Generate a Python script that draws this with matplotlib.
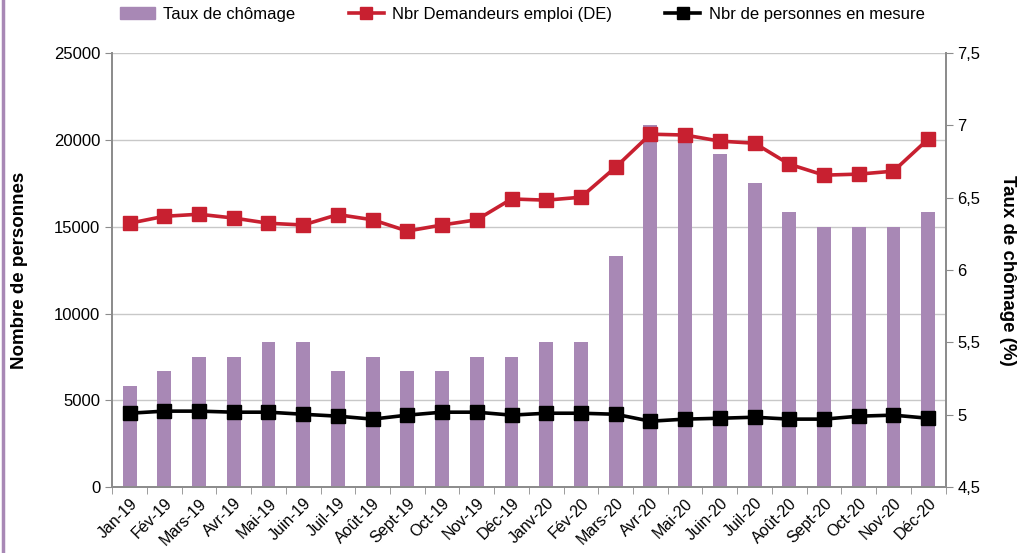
import matplotlib
matplotlib.use("Agg")
import matplotlib.pyplot as plt
import matplotlib.transforms as mtransforms
from matplotlib.lines import Line2D
from matplotlib.patches import Patch
import numpy as np

plt.rcParams['font.family'] = ['Liberation Sans', 'DejaVu Sans']

# --- données ---
mois = ['Jan-19', 'Fév-19', 'Mars-19', 'Avr-19', 'Mai-19', 'Juin-19', 'Juil-19',
        'Août-19', 'Sept-19', 'Oct-19', 'Nov-19', 'Déc-19', 'Janv-20', 'Fév-20',
        'Mars-20', 'Avr-20', 'Mai-20', 'Juin-20', 'Juil-20', 'Août-20', 'Sept-20',
        'Oct-20', 'Nov-20', 'Déc-20']
taux_chomage = [5.2, 5.3, 5.4, 5.4, 5.5, 5.5, 5.3, 5.4, 5.3, 5.3, 5.4, 5.4,
                5.5, 5.5, 6.1, 7.0, 6.9, 6.8, 6.6, 6.4, 6.3, 6.3, 6.3, 6.4]
demandeurs = [15200, 15600, 15720, 15500, 15200, 15100, 15700, 15400, 14750,
              15100, 15400, 16600, 16530, 16700, 18430, 20330, 20280, 19930,
              19810, 18600, 17970, 18030, 18200, 20050]
en_mesure = [4260, 4380, 4380, 4320, 4320, 4200, 4090, 3920, 4150, 4320, 4320,
             4150, 4260, 4260, 4200, 3800, 3920, 3970, 4030, 3920, 3920, 4090,
             4150, 3970]

violet = '#A888B5'
rouge = '#C82030'
gris = '#8C8C8C'

x = np.arange(len(mois))

fig = plt.figure(figsize=(10.2, 5.53), dpi=100)
ax = fig.add_axes([0.11, 0.119, 0.817, 0.785])
ax2 = ax.twinx()

# barres sur l'axe de droite
ax2.bar(x, taux_chomage, width=0.4, color=violet, zorder=2)
ax2.set_ylim(4.5, 7.5)
ax2.set_yticks([4.5, 5, 5.5, 6, 6.5, 7, 7.5])
ax2.set_yticklabels(['4,5', '5', '5,5', '6', '6,5', '7', '7,5'])

# grille de l'axe gauche, dessinée sous les barres
trans = mtransforms.blended_transform_factory(ax2.transAxes, ax.transData)
for v in [5000, 10000, 15000, 20000, 25000]:
    ax2.plot([0, 1], [v, v], transform=trans, color='#C8C8C8', lw=1, zorder=0)

# courbes sur l'axe de gauche
ax.set_zorder(ax2.get_zorder() + 1)
ax.patch.set_visible(False)
ax.plot(x, demandeurs, color=rouge, lw=2.6, marker='s', markersize=10.5)
ax.plot(x, en_mesure, color='black', lw=2.6, marker='s', markersize=10.5)
ax.set_ylim(0, 25000)
ax.set_yticks(range(0, 25001, 5000))
ax.set_xlim(-0.5, len(mois) - 0.5)

ax.set_xticks(x)
ax.set_xticklabels(mois, rotation=45, ha='right', rotation_mode='anchor', fontsize=11.5)
ax.tick_params(axis='x', length=0, pad=6)
ax.set_xticks(np.arange(-0.5, len(mois), 1), minor=True)
ax.tick_params(axis='x', which='minor', length=5, color=gris)
ax.tick_params(axis='y', labelsize=12, color=gris, length=5)
ax2.tick_params(axis='y', labelsize=12, color=gris, length=5)

for a in (ax, ax2):
    a.spines['top'].set_visible(False)
    for s in ('left', 'right', 'bottom'):
        a.spines[s].set_color(gris)
        a.spines[s].set_linewidth(1.3)

ax.set_ylabel('Nombre de personnes', fontsize=13.5, fontweight='bold', labelpad=19)
ax2.set_ylabel('Taux de chômage (%)', fontsize=13.5, fontweight='bold',
               rotation=-90, labelpad=26)

handles = [Patch(color=violet),
           Line2D([], [], color=rouge, lw=2.6, marker='s', markersize=9),
           Line2D([], [], color='black', lw=2.6, marker='s', markersize=9)]
labels = ['Taux de chômage', 'Nbr Demandeurs emploi (DE)', 'Nbr de personnes en mesure']
fig.legend(handles, labels, loc='upper center', bbox_to_anchor=(0.512, 1.015),
           ncol=3, frameon=False, fontsize=12, columnspacing=3.2,
           handlelength=2.1, handletextpad=0.5)

# bordure violette à gauche
fig.add_artist(Line2D([0.003, 0.003], [0, 1], transform=fig.transFigure,
                      color=violet, lw=2.5))

fig.savefig('out.png', dpi=100)
